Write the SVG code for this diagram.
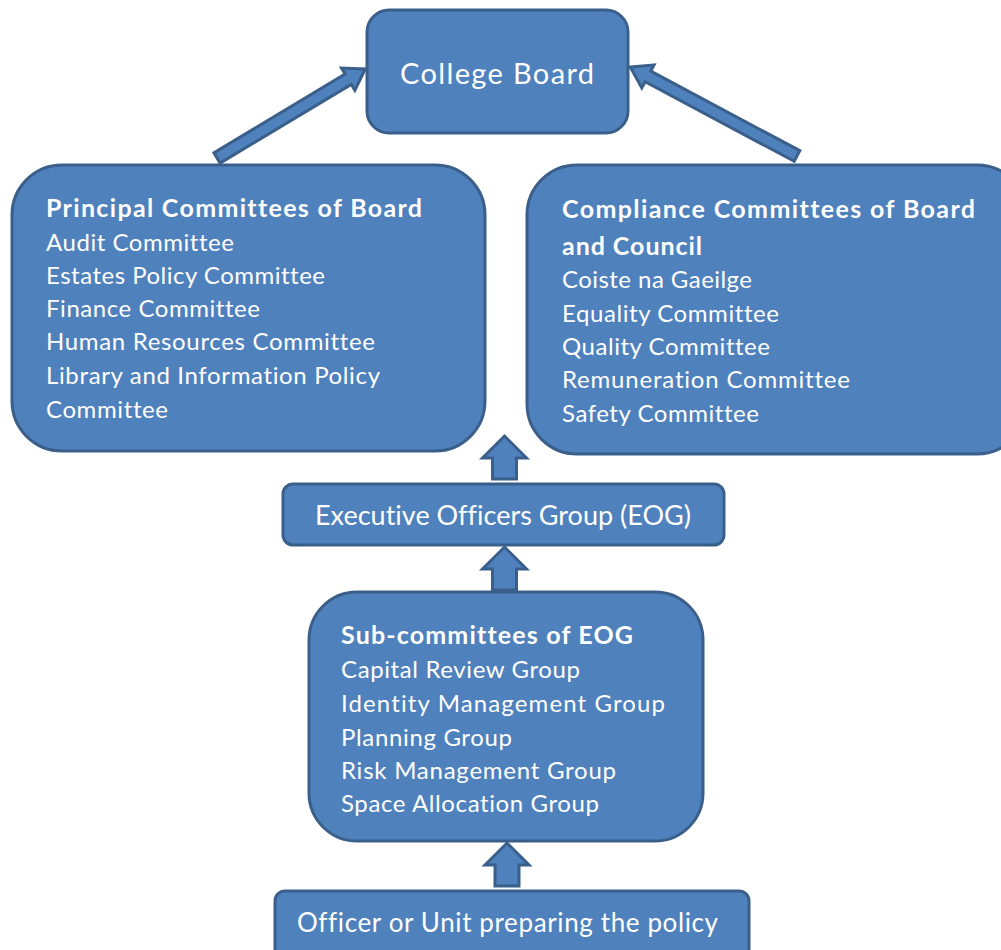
<svg xmlns="http://www.w3.org/2000/svg" width="1001" height="950" viewBox="0 0 1001 950">
  <style>
    .box { fill: #4F81BD; stroke: #3A5F8B; stroke-width: 3; }
    .arrow { fill: #4F81BD; stroke: #3A5F8B; stroke-width: 3; stroke-linejoin: miter; }
    text { font-family: Lato, "Liberation Sans", sans-serif; fill: #FFFFFF; font-variant-ligatures: none; }
    .item { font-size: 24px; }
    .head { font-size: 25px; font-weight: bold; }
  </style>
  <defs>
    <!-- block arrow pointing up, tip at (0,0) -->
    <polygon id="upArrow" points="0,0 22,22 12,22 12,43 -12,43 -12,22 -22,22"/>
  </defs>
  <rect width="1001" height="950" fill="#FFFFFF"/>

  <g id="connectors">
    <!-- diagonal block arrows into College Board -->
    <g transform="translate(217,158) rotate(-31)">
      <polygon class="arrow" points="0,-6 153,-6 153,-13 173,0 153,13 153,6 0,6"/>
    </g>
    <g transform="translate(797,156) rotate(-151.9)">
      <polygon class="arrow" points="0,-6 169,-6 169,-13 189,0 169,13 169,6 0,6"/>
    </g>
    <!-- vertical block arrows -->
    <use href="#upArrow" class="arrow" x="504.5" y="436"/>
    <use href="#upArrow" class="arrow" x="504.5" y="547"/>
    <use href="#upArrow" class="arrow" x="507" y="843"/>
  </g>

  <g id="college-board">
    <rect class="box" x="367" y="10" width="261" height="123" rx="22"/>
    <text x="400" y="84" font-size="29" textLength="194">College Board</text>
  </g>

  <g id="principal-committees">
    <rect class="box" x="12" y="165" width="473" height="286" rx="50"/>
    <text class="head" x="46" y="217" textLength="376">Principal  Committees of Board</text>
    <text class="item" x="46" y="251" textLength="188">Audit Committee</text>
    <text class="item" x="46" y="284" textLength="279">Estates Policy Committee</text>
    <text class="item" x="46" y="317" textLength="214">Finance Committee</text>
    <text class="item" x="46" y="350" textLength="329">Human Resources Committee</text>
    <text class="item" x="46" y="384" textLength="334">Library and Information Policy</text>
    <text class="item" x="46" y="418" textLength="122">Committee</text>
  </g>

  <g id="compliance-committees">
    <rect class="box" x="527" y="165" width="500" height="289" rx="50"/>
    <text class="head" x="562" y="218" textLength="413">Compliance  Committees of Board</text>
    <text class="head" x="562" y="255" textLength="140">and Council</text>
    <text class="item" x="562" y="288" textLength="190">Coiste na Gaeilge</text>
    <text class="item" x="562" y="322" textLength="217">Equality Committee</text>
    <text class="item" x="562" y="355" textLength="208">Quality Committee</text>
    <text class="item" x="562" y="388" textLength="288">Remuneration  Committee</text>
    <text class="item" x="562" y="422" textLength="197">Safety Committee</text>
  </g>

  <g id="executive-officers-group">
    <rect class="box" x="283" y="484" width="441" height="61" rx="10"/>
    <text x="315" y="525" font-size="27" textLength="376">Executive  Officers Group (EOG)</text>
  </g>

  <g id="sub-committees">
    <rect class="box" x="309" y="592" width="394" height="249" rx="48"/>
    <text class="head" x="341" y="644" textLength="292">Sub-committees of EOG</text>
    <text class="item" x="341" y="678" textLength="239">Capital Review  Group</text>
    <text class="item" x="341" y="712" textLength="324">Identity Management Group</text>
    <text class="item" x="341" y="746" textLength="171">Planning Group</text>
    <text class="item" x="341" y="779" textLength="275">Risk Management Group</text>
    <text class="item" x="341" y="812" textLength="258">Space Allocation Group</text>
  </g>

  <g id="officer-unit">
    <rect class="box" x="275" y="891" width="474" height="75" rx="10"/>
    <text x="297" y="932" font-size="26" textLength="421">Officer or Unit preparing the policy</text>
  </g>
</svg>
